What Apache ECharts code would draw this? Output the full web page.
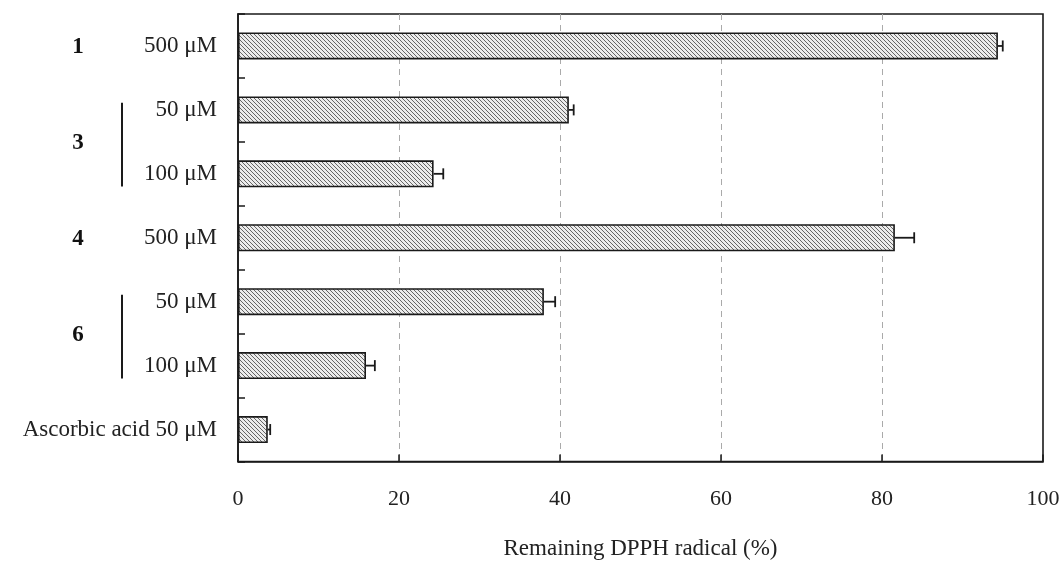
<!DOCTYPE html>
<html>
<head>
<meta charset="utf-8">
<script src="https://cdn.jsdelivr.net/npm/echarts@6/dist/echarts.min.js"></script>
<style>
  html, body { margin: 0; padding: 0; background: #fff; }
  #chart { width: 1063px; height: 565px; }
</style>
</head>
<body>
<div id="chart"></div>
<script>
// categories from top to bottom
var categories = ['500 μM', '50 μM', '100 μM', '500 μM', '50 μM', '100 μM', 'Ascorbic acid 50 μM'];
var remaining = [94.4, 41.1, 24.3, 81.6, 38.0, 15.9, 3.7];
var errors = [0.6, 0.6, 1.2, 2.4, 1.4, 1.1, 0.3];
var xTicks = [0, 20, 40, 60, 80, 100];

// compound groups: name + first/last category index
var groupNames = ['1', '3', '4', '6'];
var groupStart = [0, 1, 3, 4];
var groupEnd = [0, 2, 3, 5];

var serif = '"Liberation Serif", "DejaVu Serif", serif';

// hatched fill for the bars
function hatch() {
  var c = document.createElement('canvas');
  c.width = 4; c.height = 4;
  var ctx = c.getContext('2d');
  ctx.fillStyle = '#ececec';
  ctx.fillRect(0, 0, 4, 4);
  ctx.strokeStyle = '#666';
  ctx.lineWidth = 1;
  ctx.beginPath();
  ctx.moveTo(-1, -1); ctx.lineTo(5, 5);
  ctx.moveTo(-1, 3); ctx.lineTo(1, 5);
  ctx.moveTo(3, -1); ctx.lineTo(5, 1);
  ctx.stroke();
  return c;
}

var chart = echarts.init(document.getElementById('chart'));

var option = {
  animation: false,
  grid: {
    left: 238, right: 20, top: 14, bottom: 96,
    show: true, borderColor: '#1a1a1a', borderWidth: 1.6, backgroundColor: 'transparent'
  },
  xAxis: {
    type: 'value',
    min: xTicks[0], max: xTicks[xTicks.length - 1], interval: 20,
    name: 'Remaining DPPH radical (%)',
    nameLocation: 'middle',
    nameGap: 87,
    nameTextStyle: { fontFamily: serif, fontSize: 23, color: '#222', verticalAlign: 'middle' },
    axisLine: { show: true, lineStyle: { color: '#1a1a1a', width: 1.6 } },
    axisTick: { show: true, inside: true, length: 7, lineStyle: { color: '#1a1a1a', width: 1.5 } },
    axisLabel: { fontFamily: serif, fontSize: 22, color: '#222', margin: 27 },
    splitLine: { show: true, showMinLine: false, showMaxLine: false,
      lineStyle: { color: '#aaa', type: [6, 5], width: 1 } }
  },
  yAxis: {
    type: 'category',
    inverse: true,
    data: categories,
    axisLine: { show: true, lineStyle: { color: '#1a1a1a', width: 1.6 } },
    axisTick: { show: true, inside: true, length: 7, lineStyle: { color: '#1a1a1a', width: 1.5 } },
    axisLabel: { fontFamily: serif, fontSize: 23, color: '#222', margin: 21 },
    splitLine: { show: false }
  },
  series: [
    {
      type: 'bar',
      data: remaining,
      barWidth: 27,
      itemStyle: {
        color: { image: hatch(), repeat: 'repeat' },
        borderColor: '#1a1a1a',
        borderWidth: 1.6
      },
      z: 2
    },
    {
      // error bars (upper side only is visible)
      type: 'custom',
      data: remaining.map(function (v, i) { return [v, i, errors[i]]; }),
      renderItem: function (params, api) {
        var v = api.value(0), i = api.value(1), e = api.value(2);
        var p0 = api.coord([v, i]);
        var p1 = api.coord([v + e, i]);
        var h = 5.5;
        return {
          type: 'group',
          children: [
            { type: 'line', shape: { x1: p0[0], y1: p0[1], x2: p1[0], y2: p1[1] },
              style: { stroke: '#1a1a1a', lineWidth: 1.8 } },
            { type: 'line', shape: { x1: p1[0], y1: p1[1] - h, x2: p1[0], y2: p1[1] + h },
              style: { stroke: '#1a1a1a', lineWidth: 1.8 } }
          ]
        };
      },
      z: 3
    },
    {
      // compound numbers and brackets left of the category labels
      type: 'custom',
      clip: false,
      data: groupNames.map(function (g, k) { return [0, groupStart[k], groupEnd[k], g]; }),
      renderItem: function (params, api) {
        var a = api.value(1), b = api.value(2);
        var k = params.dataIndex;
        var pa = api.coord([0, a]);
        var pb = api.coord([0, b]);
        var cy = (pa[1] + pb[1]) / 2 + 1;
        var children = [{
          type: 'text',
          style: {
            text: groupNames[k], x: 78, y: cy,
            font: 'bold 23px ' + serif, fill: '#111',
            align: 'center', verticalAlign: 'middle'
          }
        }];
        if (b > a) {
          var band = api.size([0, 1])[1];
          children.push({
            type: 'line',
            shape: { x1: 122, y1: pa[1] - band * 0.11, x2: 122, y2: pb[1] + band * 0.2 },
            style: { stroke: '#1a1a1a', lineWidth: 2 }
          });
        }
        return { type: 'group', children: children };
      },
      silent: true
    }
  ]
};

chart.setOption(option);
</script>
</body>
</html>
